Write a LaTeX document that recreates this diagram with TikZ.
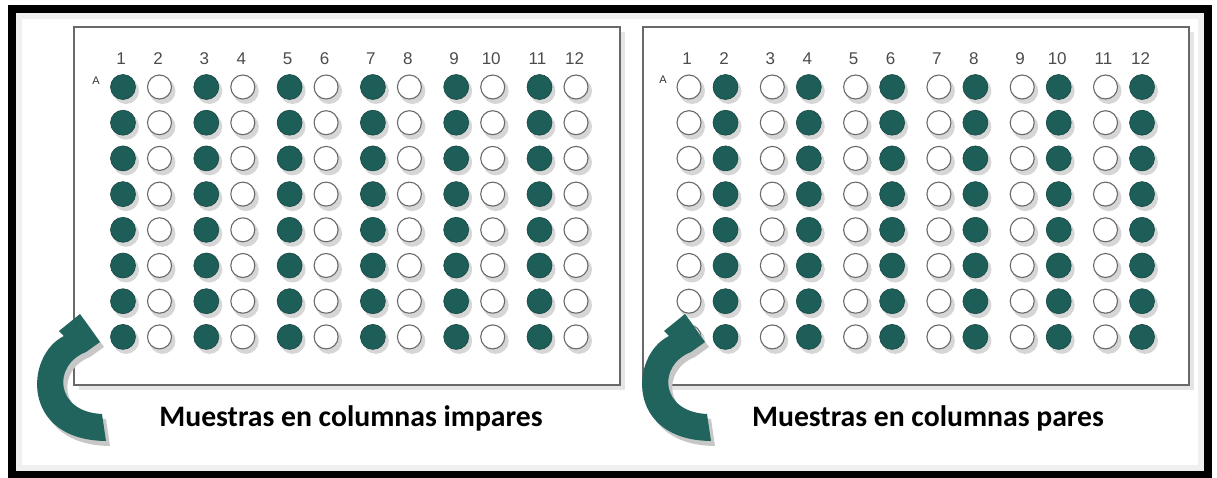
\documentclass[tikz,border=0pt]{standalone}
\usepackage{fontspec}
\setmainfont{Liberation Sans}
\newfontfamily\capfont{Carlito}
\definecolor{welltealc}{RGB}{30,94,88}
\definecolor{arrowtealc}{RGB}{33,99,93}
\definecolor{plategray}{RGB}{105,105,105}
\tikzset{
  fullwell/.style={fill=welltealc, draw=welltealc!75!black, line width=0.6pt},
  emptywell/.style={fill=white, draw=plategray, line width=1.1pt},
  wellshadow/.style={fill=black, opacity=0.16},
  collabel/.style={font=\fontsize{17}{17}\selectfont, text=black!70, inner sep=0pt},
  rowlabel/.style={font=\fontsize{11}{11}\selectfont, text=black!80, inner sep=0pt},
  caption/.style={font=\capfont\bfseries\fontsize{29.7}{30}\selectfont, inner sep=0pt, anchor=base},
}

\begin{document}
\begin{tikzpicture}[x=1pt, y=-1pt]
    \useasboundingbox (0,0) rectangle (1217,477);
    \fill[white] (0,0) rectangle (1217,477);

    % outer frame with its soft inner edge
    \draw[black!6, line width=6pt] (19,16) rectangle (1201,468);
    \draw[line width=8pt] (12,9) rectangle (1208,475);

    % the two plates
    \foreach \dx in {0,569} {
        \fill[black!10] (79+\dx,32) rectangle (625+\dx,390);
        \draw[plategray, line width=1.5pt, fill=white] (74+\dx,27) rectangle (620+\dx,385);
    }

    % wells: odd columns filled on the left, even columns on the right
    \foreach \k in {0,...,5} {
        \foreach \r in {0,...,7} {
            \pgfmathsetmacro\xa{123+83.3*\k}
            \pgfmathsetmacro\xb{\xa+36.5}
            \pgfmathsetmacro\yy{87+35.7*\r}
            \fill[wellshadow] (\xa+3,\yy+4) circle (13pt);
            \fill[wellshadow] (\xb+3,\yy+4) circle (13pt);
            \fill[wellshadow] (\xa+569,\yy+4) circle (13pt);
            \fill[wellshadow] (\xb+569,\yy+4) circle (13pt);
            \draw[fullwell] (\xa,\yy) circle (12.5pt);
            \draw[emptywell] (\xb,\yy) circle (12pt);
            \draw[emptywell] (\xa+566,\yy) circle (12pt);
            \draw[fullwell] (\xb+566,\yy) circle (12.5pt);
        }
    }

    % column numbers
    \foreach \k in {0,...,5} {
        \pgfmathsetmacro\xa{121+83.3*\k}
        \pgfmathsetmacro\xb{\xa+37}
        \pgfmathtruncatemacro\ca{2*\k+1}
        \pgfmathtruncatemacro\cb{2*\k+2}
        \node[collabel] (L-c\ca) at (\xa,59) {\ca};
        \node[collabel] (L-c\cb) at (\xb,59) {\cb};
        \node[collabel] (R-c\ca) at (\xa+566,59) {\ca};
        \node[collabel] (R-c\cb) at (\xb+566,59) {\cb};
    }
    \node[rowlabel] (L-rowA) at (96,81) {A};
    \node[rowlabel] (R-rowA) at (663,80) {A};

    % turning arrows
    \foreach \dx in {0,605} {
        \fill[black!22, shift={(\dx+4,5)}] (64,336) .. controls (25,355) and (20,440) .. (106,441)
            -- (102,414) .. controls (55,412) and (52,365) .. (86,352)
            -- (100,342) -- (80,314) -- (59,331) -- cycle;
        \fill[arrowtealc, shift={(\dx,0)}] (64,336) .. controls (25,355) and (20,440) .. (106,441)
            -- (102,414) .. controls (55,412) and (52,365) .. (86,352)
            -- (100,342) -- (80,314) -- (59,331) -- cycle;
    }

    % captions
    \node[caption] (capL) at (351,426) {Muestras en columnas impares};
    \node[caption] (capR) at (928,426) {Muestras en columnas pares};
\end{tikzpicture}
\end{document}
